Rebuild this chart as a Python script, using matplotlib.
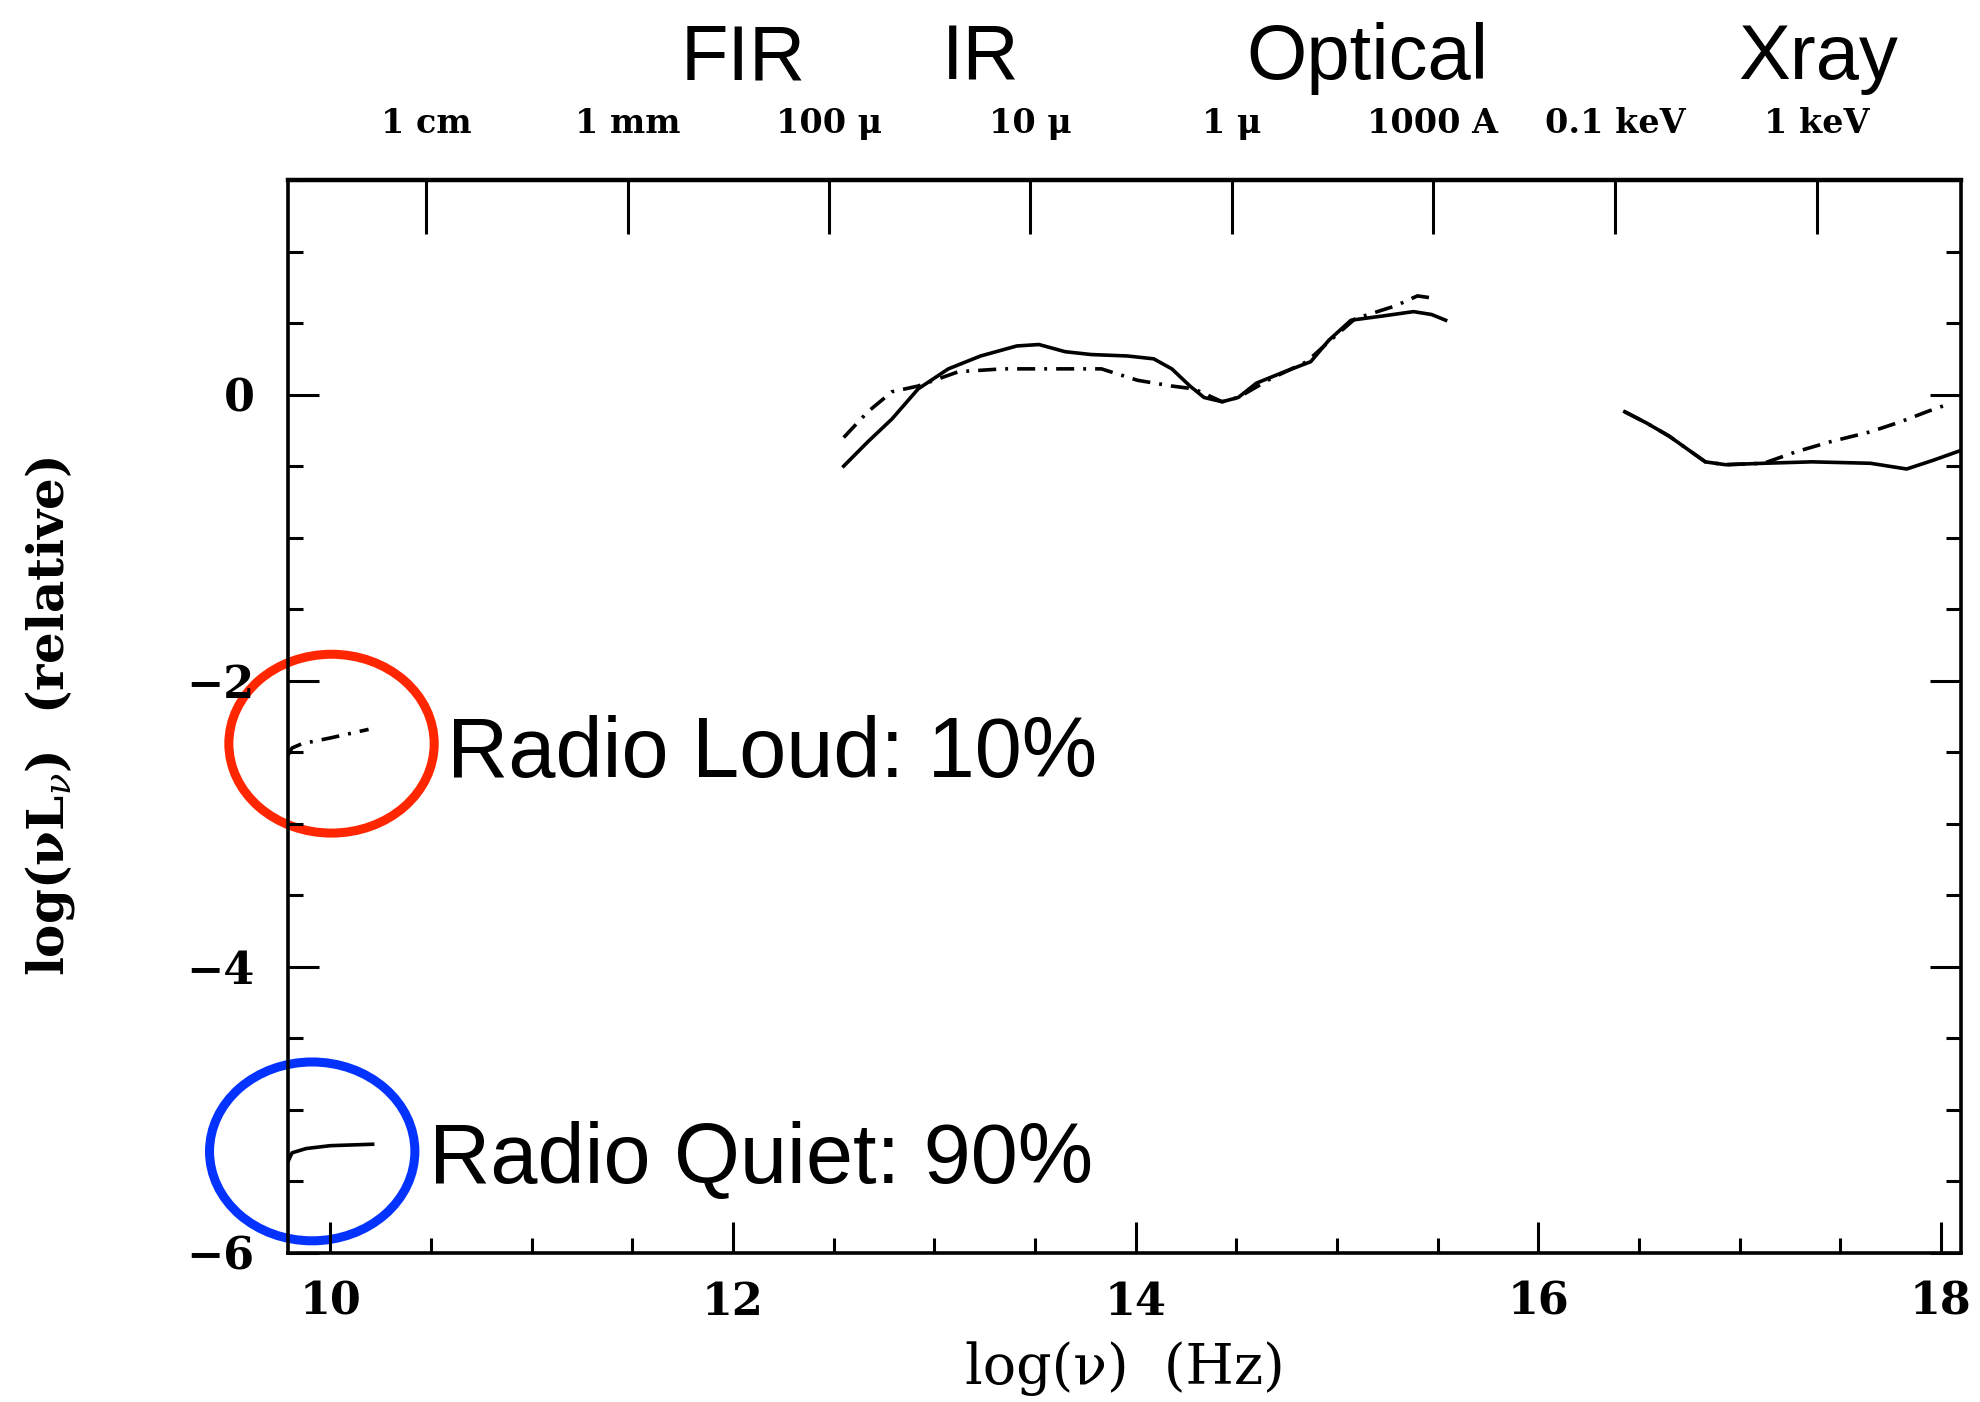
import matplotlib.pyplot as plt
from matplotlib.patches import Ellipse
from matplotlib.ticker import MultipleLocator

# Quasar SED, log(nu) in Hz vs log(nu L_nu) relative
# radio-quiet (solid) and radio-loud (dash-dot) pieces
rq_radio_x = [9.79, 9.81, 9.88, 10.0, 10.21]
rq_radio_y = [-5.36, -5.30, -5.27, -5.25, -5.24]
rl_radio_x = [9.79, 9.81, 9.86, 10.0, 10.19]
rl_radio_y = [-2.52, -2.47, -2.44, -2.40, -2.34]

rq_opt_x = [12.55, 12.67, 12.79, 12.92, 13.07, 13.23, 13.41, 13.52, 13.65, 13.78, 13.96,
            14.09, 14.18, 14.27, 14.34, 14.43, 14.51, 14.60, 14.74, 14.87, 14.96, 15.07,
            15.23, 15.38, 15.47, 15.54]
rq_opt_y = [-0.50, -0.33, -0.17, 0.04, 0.18, 0.27, 0.34, 0.35, 0.30, 0.28, 0.27,
            0.25, 0.18, 0.06, -0.02, -0.05, -0.02, 0.08, 0.16, 0.23, 0.38, 0.52,
            0.55, 0.58, 0.56, 0.52]
rl_opt_x = [12.55, 12.67, 12.79, 12.92, 13.12, 13.34, 13.61, 13.83, 14.01, 14.18, 14.29,
            14.43, 14.51, 14.67, 14.85, 14.96, 15.09, 15.29, 15.40, 15.50]
rl_opt_y = [-0.30, -0.12, 0.02, 0.06, 0.16, 0.18, 0.18, 0.18, 0.10, 0.06, 0.04,
            -0.05, -0.02, 0.11, 0.23, 0.37, 0.53, 0.62, 0.69, 0.67]

rq_x_x = [16.43, 16.54, 16.65, 16.74, 16.83, 16.93, 17.12, 17.36, 17.65, 17.83, 17.96, 18.10]
rq_x_y = [-0.12, -0.20, -0.29, -0.38, -0.47, -0.49, -0.48, -0.47, -0.48, -0.52, -0.46, -0.39]
rl_x_x = [16.43, 16.54, 16.65, 16.74, 16.83, 16.93, 17.12, 17.28, 17.45, 17.65, 17.80, 17.93, 18.03]
rl_x_y = [-0.12, -0.20, -0.29, -0.38, -0.47, -0.49, -0.48, -0.40, -0.33, -0.26, -0.19, -0.12, -0.07]

# wavelength / energy marks along the top
top_pos = [10.477, 11.477, 12.477, 13.477, 14.477, 15.477, 16.383, 17.383]
top_labels = ['1 cm', '1 mm', '100 μ', '10 μ', '1 μ', '1000 A', '0.1 keV', '1 keV']

bands = ['FIR', 'IR', 'Optical', 'Xray']
band_x = [12.05, 13.23, 15.15, 17.39]

plt.rcParams['font.family'] = 'DejaVu Serif'
plt.rcParams['mathtext.fontset'] = 'dejavuserif'

fig = plt.figure(figsize=(19.81, 14.02), dpi=100)
ax = fig.add_axes([0.1454, 0.1063, 0.8445, 0.7653])

lw = 2.6
dashdot = (0, (5, 2.5, 0.8, 2.5))
ax.plot(rq_radio_x, rq_radio_y, color='black', lw=lw)
ax.plot(rl_radio_x, rl_radio_y, color='black', lw=lw, linestyle=dashdot)
ax.plot(rq_opt_x, rq_opt_y, color='black', lw=lw)
ax.plot(rl_opt_x, rl_opt_y, color='black', lw=lw, linestyle=dashdot)
ax.plot(rq_x_x, rq_x_y, color='black', lw=lw)
ax.plot(rl_x_x, rl_x_y, color='black', lw=lw, linestyle=dashdot)

ax.set_xlim(9.79, 18.1)
ax.set_ylim(-6, 1.5)
ax.xaxis.set_major_locator(MultipleLocator(2))
ax.xaxis.set_minor_locator(MultipleLocator(0.5))
ax.yaxis.set_major_locator(MultipleLocator(2))
ax.yaxis.set_minor_locator(MultipleLocator(0.5))
ax.tick_params(which='both', direction='in', top=False, right=True, width=2.2)
ax.tick_params(which='major', length=22, labelsize=32)
ax.tick_params(which='minor', length=11)
ax.tick_params(axis='x', pad=20)
ax.tick_params(axis='y', pad=24)
for lab in ax.get_xticklabels() + ax.get_yticklabels():
    lab.set_fontweight('bold')
for sp in ax.spines.values():
    sp.set_linewidth(2.6)
ax.spines['top'].set_linewidth(3.2)

ax.set_xlabel('log(ν)  (Hz)', fontsize=40)
ax.xaxis.set_label_coords(0.5, -0.082)
ax.set_ylabel(r'log(νL$_{\nu}$)  (relative)', fontsize=36, fontweight='bold')
ax.yaxis.set_label_coords(-0.126, 0.5)

# top axis with wavelength marks
top = ax.twiny()
top.set_xlim(ax.get_xlim())
top.set_xticks(top_pos)
top.set_xticklabels(top_labels, fontsize=24, fontweight='bold')
top.tick_params(axis='x', direction='in', length=39, width=2.2, pad=29)
for sp in top.spines.values():
    sp.set_visible(False)

# band names
for name, bx in zip(bands, band_x):
    ax.text(bx, 1.094, name, transform=ax.get_xaxis_transform(), ha='center',
            va='baseline', fontsize=56, family='Liberation Sans')

# radio loud / quiet highlights
ax.add_patch(Ellipse((10.006, -2.44), 1.02, 1.25, fill=False, edgecolor='#ff2600',
                     lw=6.5, clip_on=False))
ax.add_patch(Ellipse((9.91, -5.29), 1.02, 1.25, fill=False, edgecolor='#0433ff',
                     lw=6.5, clip_on=False))
ax.text(10.58, -2.67, 'Radio Loud: 10%', fontsize=61, family='Liberation Sans', va='baseline')
ax.text(10.49, -5.51, 'Radio Quiet: 90%', fontsize=61, family='Liberation Sans', va='baseline')

fig.savefig('out.png', dpi=100)
